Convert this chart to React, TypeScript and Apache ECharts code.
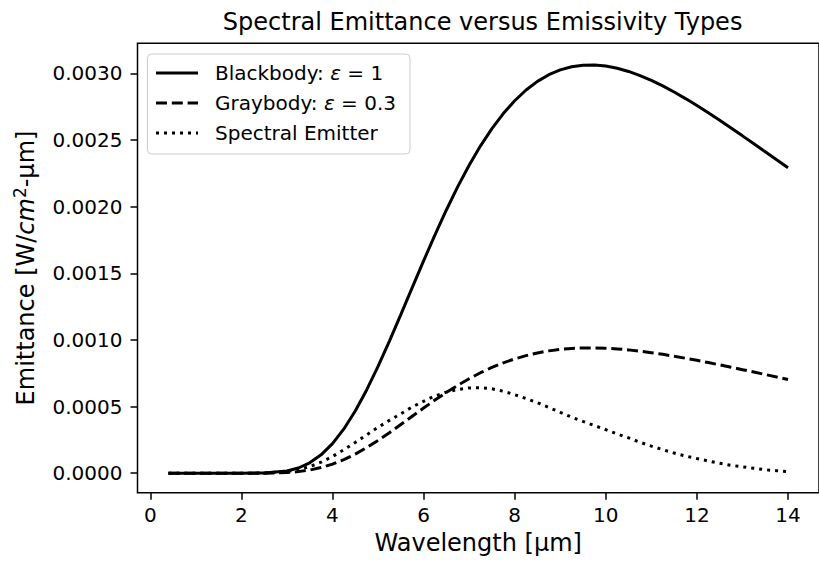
import React, { useEffect, useRef } from "react";
import * as echarts from "echarts";

// Wavelength samples [µm]
const wavelength = [
  0.4, 1.0, 1.5, 2.0, 2.5, 3.0, 3.25, 3.5, 3.75, 4.0, 4.25, 4.5, 4.75, 5.0, 5.25, 5.5, 5.75,
  6.0, 6.25, 6.5, 6.75, 7.0, 7.25, 7.5, 7.75, 8.0, 8.25, 8.5, 8.75, 9.0, 9.25, 9.5, 9.75,
  10.0, 10.25, 10.5, 10.75, 11.0, 11.25, 11.5, 11.75, 12.0, 12.25, 12.5, 12.75, 13.0, 13.25,
  13.5, 13.75, 14.0,
];

// Emittance [W/cm²-µm]
const blackbody = [
  0, 0, 0, 0, 0.0000018, 0.0000172, 0.0000394, 0.0000782, 0.000138, 0.0002222, 0.0003323,
  0.0004674, 0.0006251, 0.0008013, 0.0009914, 0.0011901, 0.0013924, 0.0015933, 0.0017889,
  0.0019754, 0.0021503, 0.0023109, 0.0024567, 0.0025862, 0.0026987, 0.002795, 0.0028754,
  0.0029402, 0.0029904, 0.0030264, 0.0030501, 0.0030621, 0.0030636, 0.0030555, 0.003039,
  0.0030149, 0.0029839, 0.0029474, 0.0029062, 0.0028605, 0.0028112, 0.0027592, 0.0027046,
  0.0026484, 0.0025903, 0.0025315, 0.0024723, 0.0024124, 0.0023523, 0.0022926,
];

const graybody = [
  0, 0, 0, 0, 0.0000006, 0.0000053, 0.0000121, 0.000024, 0.0000424, 0.0000682, 0.000102,
  0.0001435, 0.0001919, 0.000246, 0.0003044, 0.0003654, 0.0004275, 0.0004891, 0.0005492,
  0.0006064, 0.0006601, 0.0007094, 0.0007542, 0.000794, 0.0008285, 0.0008581, 0.0008827,
  0.0009026, 0.0009181, 0.0009291, 0.0009364, 0.0009401, 0.0009405, 0.000938, 0.000933,
  0.0009256, 0.0009161, 0.0009049, 0.0008922, 0.0008782, 0.000863, 0.0008471, 0.0008303,
  0.0008131, 0.0007952, 0.0007772, 0.000759, 0.0007406, 0.0007222, 0.0007038,
];

const spectralEmitter = [
  0, 0, 0, 0, 0.0000014, 0.0000124, 0.0000268, 0.00005, 0.0000828, 0.0001255, 0.0001761,
  0.0002314, 0.0002875, 0.0003446, 0.0003966, 0.0004463, 0.0004971, 0.00054, 0.00058,
  0.0006084, 0.0006279, 0.0006401, 0.0006412, 0.0006336, 0.0006153, 0.0005898, 0.0005607,
  0.0005292, 0.0004934, 0.000457, 0.0004209, 0.0003889, 0.0003584, 0.0003269, 0.0002948,
  0.0002653, 0.0002327, 0.0002034, 0.0001773, 0.0001516, 0.0001293, 0.0001104, 0.000092,
  0.0000742, 0.0000596, 0.0000481, 0.0000371, 0.0000265, 0.0000188, 0.0000115,
];

const xTicks = [0, 2, 4, 6, 8, 10, 12, 14];
const yTicks = [0, 0.0005, 0.001, 0.0015, 0.002, 0.0025, 0.003];
const seriesNames = ["Blackbody: ε = 1", "Graybody: ε = 0.3", "Spectral Emitter"];
const titleText = "Spectral Emittance versus Emissivity Types";
const xName = "Wavelength [µm]";
const yName = "Emittance [W/{i|cm}{sup|2}-µm]";

const FONT = "DejaVu Sans";

export default function App() {
  const ref = useRef<HTMLDivElement>(null);

  useEffect(() => {
    document.body.style.margin = "0";
    const chart = echarts.init(ref.current!, null, { renderer: "svg" });
    const pair = (ys: number[]) => wavelength.map((x, i) => [x, ys[i]]);
    const lineTypes: any[] = ["solid", [11, 4.8], [3, 5]];
    const values = [blackbody, graybody, spectralEmitter];

    chart.setOption({
      animation: false,
      backgroundColor: "#ffffff",
      grid: {
        show: true,
        left: 137.5,
        top: 43.3,
        right: -10.8,
        bottom: 69.3,
        borderColor: "#000",
        borderWidth: 1.5,
        backgroundColor: "transparent",
      },
      graphic: [
        {
          type: "text",
          x: 482.6,
          y: 22,
          style: {
            text: titleText,
            font: `24px "${FONT}"`,
            fill: "#000",
            textAlign: "center",
            textVerticalAlign: "middle",
          },
        },
      ],
      legend: {
        orient: "vertical",
        left: 147.5,
        top: 54,
        data: seriesNames,
        itemWidth: 42,
        itemHeight: 20,
        itemGap: 10,
        padding: [9, 14, 11, 7],
        backgroundColor: "rgba(255,255,255,0.8)",
        borderColor: "#cccccc",
        borderWidth: 1,
        borderRadius: 4,
        itemStyle: { color: "transparent", borderColor: "transparent", borderWidth: 0, opacity: 0 },
        lineStyle: { width: 3, color: "#000" },
        formatter: (name: string) => name.replace("ε", "{i|ε}"),
        textStyle: {
          fontFamily: FONT,
          fontSize: 20,
          color: "#000",
          lineHeight: 20,
          padding: [0, 0, 0, 12],
          rich: {
            i: { fontFamily: FONT, fontSize: 20, fontStyle: "italic", color: "#000", lineHeight: 20 },
          },
        },
      },
      xAxis: {
        type: "value",
        min: -0.28,
        max: 14.68,
        position: "bottom",
        name: xName,
        nameLocation: "middle",
        nameGap: 38,
        nameTextStyle: { fontFamily: FONT, fontSize: 24, color: "#000" },
        axisLine: { show: false, onZero: false },
        splitLine: { show: false },
        axisTick: {
          show: true,
          length: 7,
          lineStyle: { color: "#000", width: 1.5 },
          customValues: xTicks,
        },
        axisLabel: {
          customValues: xTicks,
          fontFamily: FONT,
          fontSize: 20,
          color: "#000",
          margin: 12,
          formatter: (v: number) => String(v),
        },
      },
      yAxis: {
        type: "value",
        min: -0.000146,
        max: 0.003226,
        position: "left",
        name: yName,
        nameLocation: "middle",
        nameGap: 98,
        nameTextStyle: {
          fontFamily: FONT,
          fontSize: 24,
          color: "#000",
          lineHeight: 28,
          rich: {
            i: { fontFamily: FONT, fontSize: 24, fontStyle: "italic", color: "#000", lineHeight: 28 },
            sup: { fontFamily: FONT, fontSize: 17, color: "#000", lineHeight: 14, verticalAlign: "top" },
          },
        },
        axisLine: { show: false, onZero: false },
        splitLine: { show: false },
        axisTick: {
          show: true,
          length: 7,
          lineStyle: { color: "#000", width: 1.5 },
          customValues: yTicks,
        },
        axisLabel: {
          customValues: yTicks,
          fontFamily: FONT,
          fontSize: 20,
          color: "#000",
          margin: 15,
          formatter: (v: number) => v.toFixed(4),
        },
      },
      series: seriesNames.map((name, k) => ({
        name,
        type: "line",
        data: pair(values[k]),
        showSymbol: false,
        symbol: "none",
        silent: true,
        itemStyle: { color: "#000" },
        lineStyle: { color: "#000", width: 3, type: lineTypes[k], cap: "butt" },
      })),
    });

    return () => chart.dispose();
  }, []);

  return <div ref={ref} style={{ width: 819, height: 562 }} />;
}
